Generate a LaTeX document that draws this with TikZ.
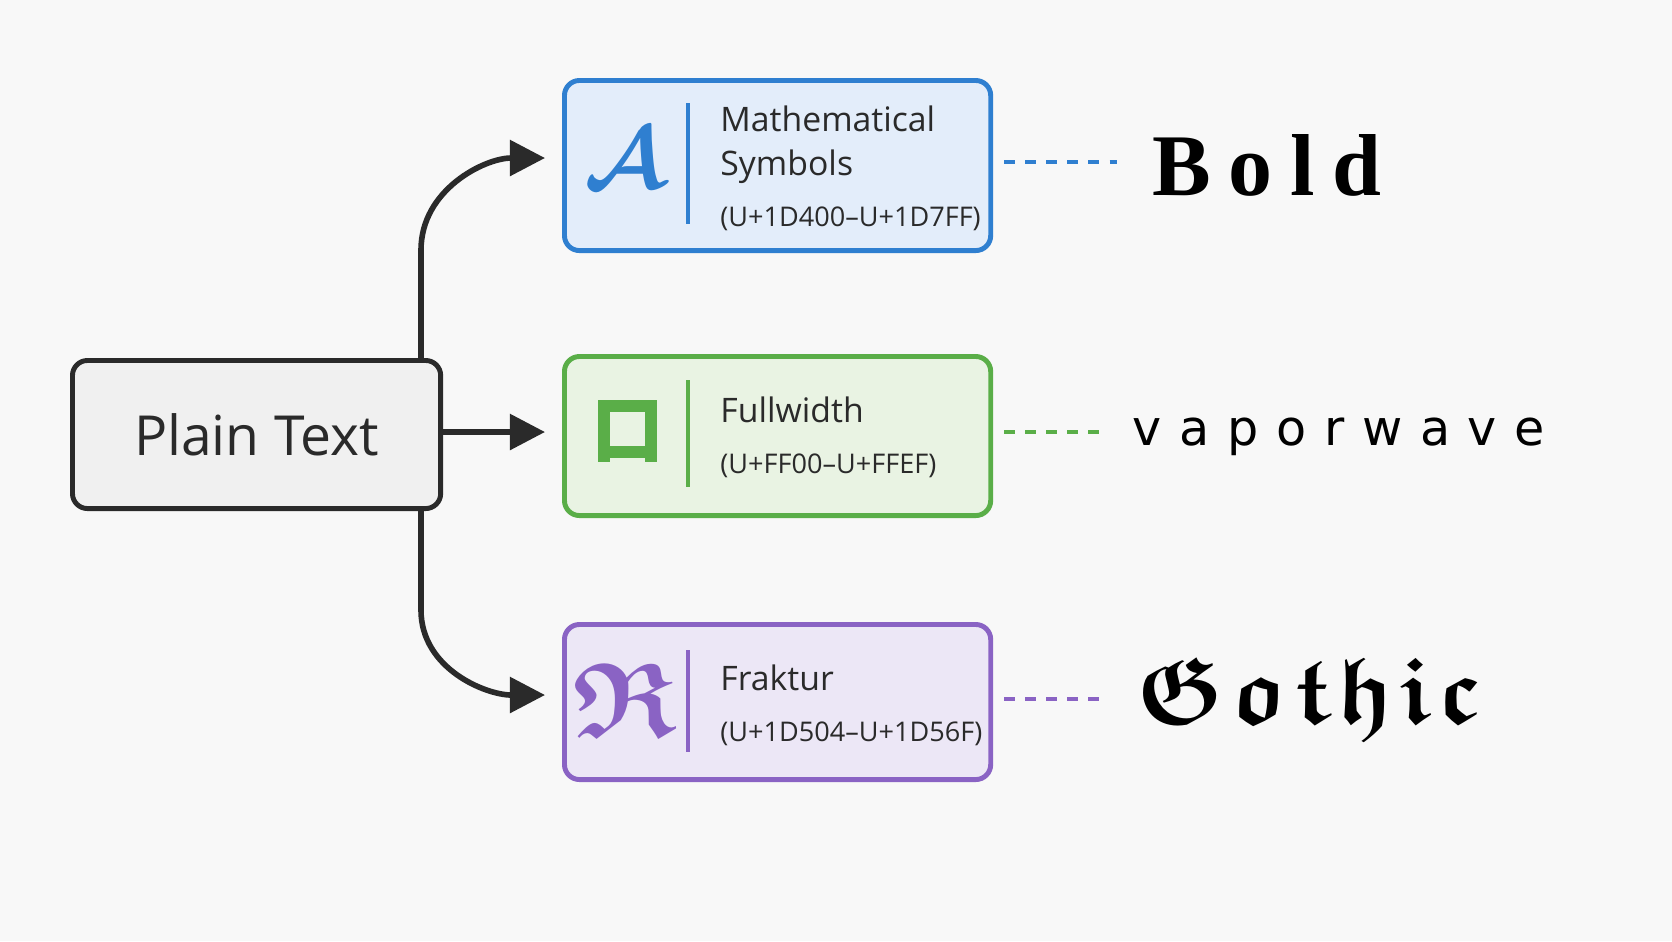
\documentclass[tikz,border=0pt]{standalone}
\usepackage{fontspec}
\usepackage{bm}
\usepackage{amssymb}
\setmainfont{Open Sans}
\newfontfamily\boldserif[LetterSpace=20]{Liberation Serif}
\newfontfamily\wavefont[LetterSpace=36]{DejaVu Sans}
\newcommand\rangetext{\fontsize{7.7}{10}\selectfont}
\usetikzlibrary{positioning,arrows.meta}
\definecolor{bgc}{HTML}{F8F8F8}
\definecolor{mblue}{HTML}{2F7FD0}
\definecolor{mbluefill}{HTML}{E3EDFA}
\definecolor{mgreen}{HTML}{5AAE48}
\definecolor{mgreenfill}{HTML}{E9F3E3}
\definecolor{mpurple}{HTML}{8A63C4}
\definecolor{mpurplefill}{HTML}{ECE7F6}
\definecolor{ink}{HTML}{2A2A2A}

\begin{document}
\begin{tikzpicture}[x=0.01cm,y=-0.01cm,
  box/.style={draw, line width=1.4pt, rounded corners=0.15cm, minimum width=4.26cm, anchor=north west},
  lbl/.style={anchor=west, align=left, text=ink, font=\fontsize{9.6}{12.5}\selectfont},
  link/.style={-{Triangle[length=10pt,width=10pt]}, line width=1.6pt, draw=ink},
  guide/.style={dashed, line width=0.9pt}]
  \fill[bgc] (0,0) rectangle (1672,941);
  \useasboundingbox (0,0) rectangle (1672,941);

  % source
  \node[box, draw=ink, fill=gray!12, minimum width=3.68cm, minimum height=1.48cm,
        font=\fontsize{15.7}{19}\selectfont, text=ink] (plain) at (70,358) {Plain Text};

  % targets
  \node[box, draw=mblue, fill=mbluefill, minimum height=1.70cm] (math) at (562,78) {};
  \node[box, draw=mgreen, fill=mgreenfill, minimum height=1.59cm] (full) at (562,354) {};
  \node[box, draw=mpurple, fill=mpurplefill, minimum height=1.55cm] (frak) at (562,622) {};

  \draw[mblue, line width=1.2pt] (688,103) -- (688,224);
  \draw[mgreen, line width=1.2pt] (688,380) -- (688,487);
  \draw[mpurple, line width=1.2pt] (688,650) -- (688,752);

  \node[text=mblue, font=\fontsize{30}{30}\selectfont] (iconA) at (625,158) {$\bm{\mathcal{A}}$};
  \draw[mgreen, line width=3.2pt] (604,406) rectangle (651,452);
  \draw[mgreen, line width=3.2pt] (604,452) -- (604,462) (651,452) -- (651,462);
  \node[text=mpurple, font=\fontsize{30}{30}\selectfont] (iconR) at (625,700) {$\bm{\mathfrak{R}}$};

  \node[lbl] (mathT) at (708,168) {Mathematical\\Symbols\\[2pt]{\rangetext(U+1D400--U+1D7FF)}};
  \node[lbl] (fullT) at (708,437) {Fullwidth\\[2pt]{\rangetext(U+FF00--U+FFEF)}};
  \node[lbl] (frakT) at (708,705) {Fraktur\\[2pt]{\rangetext(U+1D504--U+1D56F)}};

  % connectors
  \coordinate (up) at (421,358);
  \coordinate (down) at (421,506);
  \coordinate (mathIn) at (545,158);
  \coordinate (fullIn) at (545,432);
  \coordinate (frakIn) at (545,695);
  \draw[link] (up) -- (421,250) to[out=90,in=180] (mathIn);
  \draw[link] (plain.east |- fullIn) -- (fullIn);
  \draw[link] (down) -- (421,610) to[out=-90,in=180] (frakIn);

  % samples
  \node[anchor=west, font=\fontsize{25}{25}\selectfont\bfseries\boldserif] (bold) at (1140,165) {Bold};
  \node[anchor=west, font=\fontsize{14}{14}\selectfont\wavefont] (wave) at (1120,437) {vaporwave};
  \node[anchor=west, font=\fontsize{27}{27}\selectfont] (goth) at (1124,700) {$\bm{\mathfrak{G\mskip1mu o\mskip1mu t\mskip1mu h\mskip1mu i\mskip1mu c}}$};
  \draw[guide, mblue] (1004,162) -- (1117,162);
  \draw[guide, mgreen] (1004,432) -- (1103,432);
  \draw[guide, mpurple] (1004,699) -- (1103,699);
\end{tikzpicture}
\end{document}
